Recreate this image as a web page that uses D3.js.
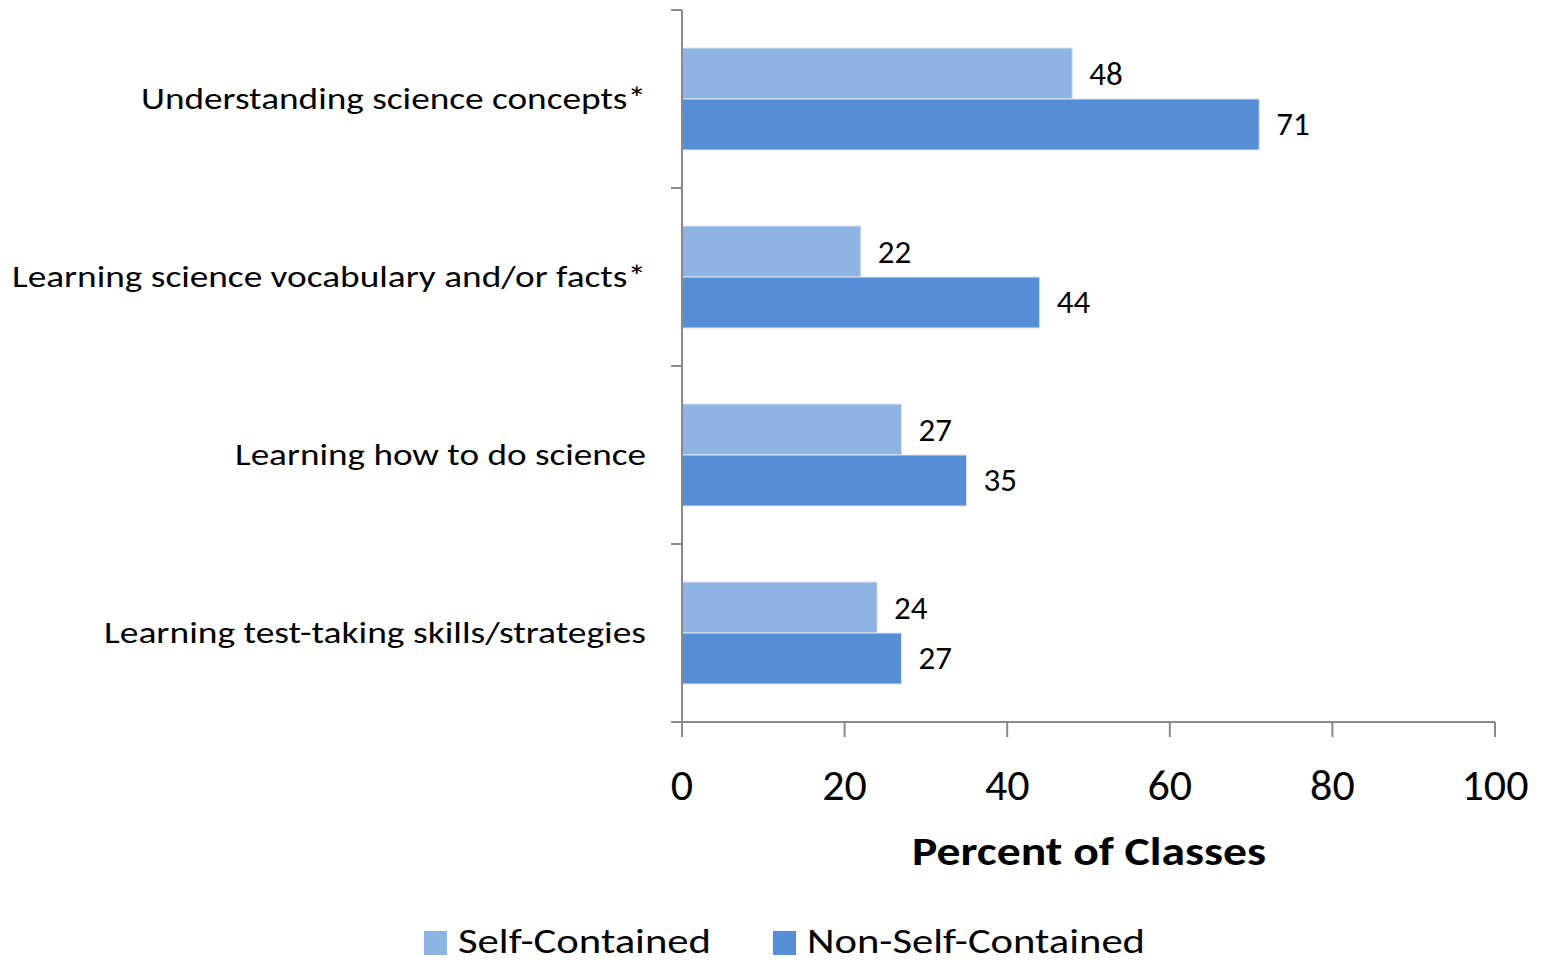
<!DOCTYPE html>
<html><head><meta charset="utf-8">
<script src="https://cdn.jsdelivr.net/npm/d3@7"></script>
<style>
html,body{margin:0;padding:0;background:#fff;}
svg{display:block;font-family:Carlito, Lato, "Open Sans", sans-serif;}
</style></head>
<body><svg id="c" width="1548" height="963"></svg>
<script>
const categories = ["Understanding science concepts*","Learning science vocabulary and/or facts*","Learning how to do science","Learning test-taking skills/strategies"];
const series = ["Self-Contained","Non-Self-Contained"];
const selfContained = [48,22,27,24];
const nonSelfContained = [71,44,35,27];
const xTicks = [0,20,40,60,80,100];
const colors = ["#8EB4E3","#558ED5"];
const labelWidths = [505,634,411,542];

const svg = d3.select("#c");
const x = d3.scaleLinear().domain([0,100]).range([682,1495]);
const y = d3.scaleBand().domain(categories).range([10,722]).paddingInner(0.427).paddingOuter(0.2135);
const ys = d3.scaleBand().domain(series).range([0,y.bandwidth()]);
const step = y.step();
const values = [selfContained, nonSelfContained];

const data = [];
categories.forEach((c,i)=>series.forEach((s,j)=>data.push({c,s,j,v:values[j][i]})));

svg.selectAll("rect.bar").data(data).enter().append("rect")
  .attr("x",x(0)).attr("y",d=>y(d.c)+ys(d.s))
  .attr("width",d=>x(d.v)-x(0)).attr("height",ys.bandwidth())
  .attr("fill",d=>colors[d.j]).attr("stroke","#dce6f2").attr("stroke-width",1);

svg.selectAll("text.val").data(data).enter().append("text")
  .attr("x",d=>x(d.v)+17).attr("y",d=>y(d.c)+ys(d.s)+ys.bandwidth()/2+11)
  .attr("font-size",33).attr("fill","#000").text(d=>d.v);

// axes
const axisColor = "#898989";
svg.append("line").attr("x1",x(0)).attr("x2",x(100)).attr("y1",722).attr("y2",722).attr("stroke",axisColor).attr("stroke-width",2);
svg.append("line").attr("x1",x(0)).attr("x2",x(0)).attr("y1",10).attr("y2",737).attr("stroke",axisColor).attr("stroke-width",2);
const bounds = categories.map(c=>y(c)-step*0.2135).concat([y(categories[3])+y.bandwidth()+step*0.2135]);
svg.selectAll("line.yt").data(bounds).enter().append("line")
  .attr("x1",671).attr("x2",x(0)).attr("y1",d=>d).attr("y2",d=>d).attr("stroke",axisColor).attr("stroke-width",2);
svg.selectAll("line.xt").data(xTicks).enter().append("line")
  .attr("x1",d=>x(d)).attr("x2",d=>x(d)).attr("y1",722).attr("y2",737).attr("stroke",axisColor).attr("stroke-width",2);
svg.selectAll("text.xl").data(xTicks).enter().append("text")
  .attr("x",d=>x(d)).attr("y",800).attr("text-anchor","middle").attr("font-size",44).text(d=>d);

svg.selectAll("text.cat").data(categories).enter().append("text")
  .attr("x",646).attr("y",d=>y(d)+y.bandwidth()/2+10).attr("text-anchor","end")
  .attr("font-size",31).attr("textLength",(d,i)=>labelWidths[i]).attr("lengthAdjust","spacingAndGlyphs").text(d=>d);

svg.append("text").attr("x",1089).attr("y",865).attr("text-anchor","middle").attr("font-size",40).attr("font-weight","bold")
  .attr("textLength",354).attr("lengthAdjust","spacingAndGlyphs").text("Percent of Classes");

// legend
const leg = [{x:424,tx:458,w:253},{x:773,tx:807,w:338}];
series.forEach((s,j)=>{
  svg.append("rect").attr("x",leg[j].x).attr("y",931).attr("width",23).attr("height",24).attr("fill",colors[j]);
  svg.append("text").attr("x",leg[j].tx).attr("y",953).attr("font-size",35)
    .attr("textLength",leg[j].w).attr("lengthAdjust","spacingAndGlyphs").text(s);
});
</script></body></html>
